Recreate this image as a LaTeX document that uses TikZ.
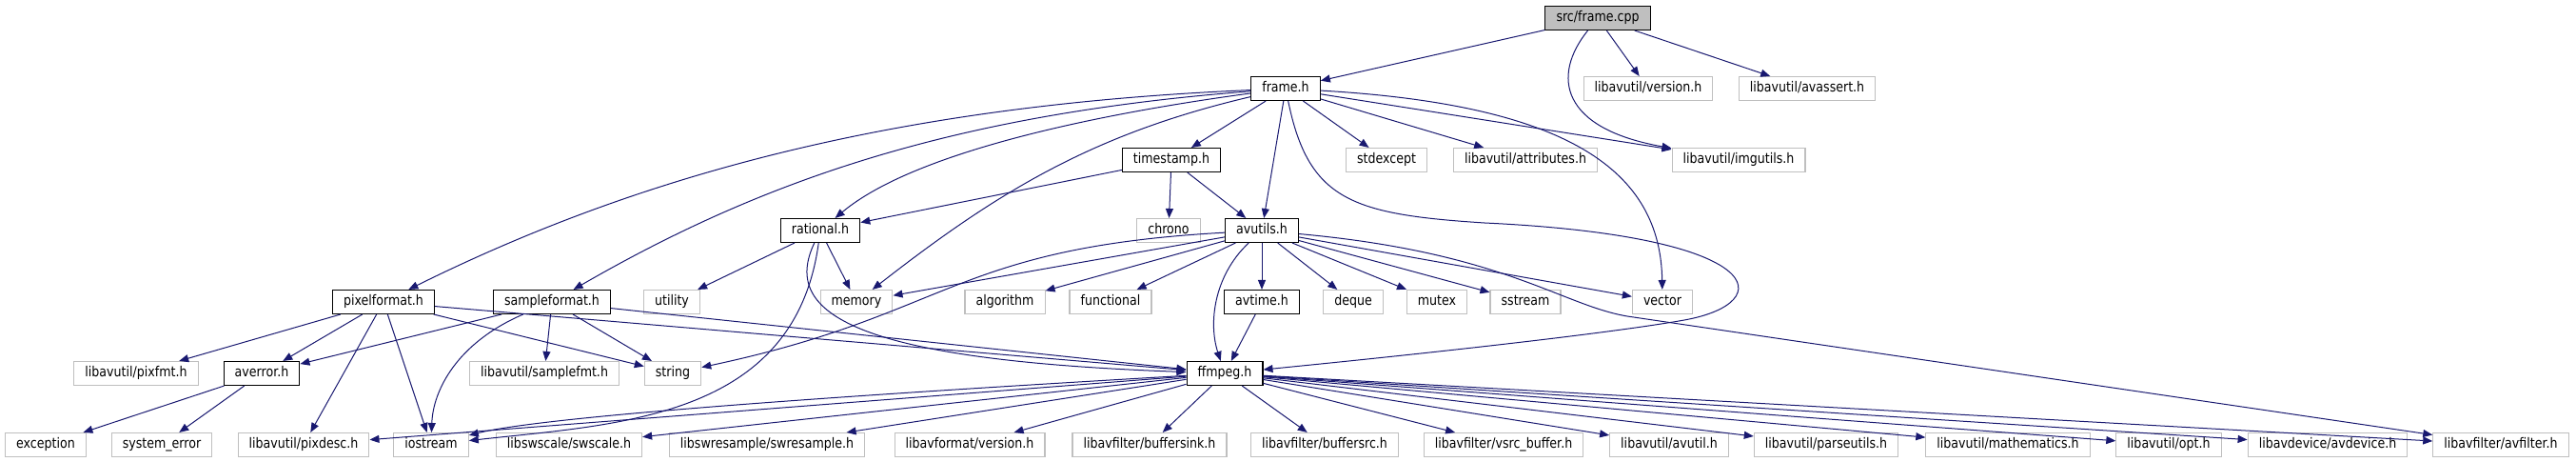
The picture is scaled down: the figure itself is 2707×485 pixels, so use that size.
\documentclass[tikz,border=0pt]{standalone}
\usepackage{fontspec}
\setmainfont{DejaVu Sans}[FakeStretch=0.86]
\usetikzlibrary{arrows.meta}
\definecolor{edgeblue}{RGB}{25,25,112}
\definecolor{sysgray}{RGB}{191,191,191}

\begin{document}
\begin{tikzpicture}[x=0.75pt,y=-0.75pt,>={Triangle[length=7.5pt,width=6pt]},
  box/.style={rectangle,inner xsep=8.7pt,inner ysep=0pt,minimum height=18.75pt,
    text height=8pt,text depth=2.3pt,font=\fontsize{11}{13}\selectfont,line width=0.8pt},
  hdr/.style={box,draw=black},
  sys/.style={box,draw=sysgray},
  src/.style={box,draw=black,fill=sysgray},
  inc/.style={->,draw=edgeblue,line width=0.75pt}]
  \useasboundingbox (0,0) rectangle (2707,485);

  % rank 1 and 2
  \node[src] (root) at (1679,19) {src/frame.cpp};
  \node[hdr] (frameh) at (1351,93) {frame.h};
  \node[sys] (verh) at (1732,93) {libavutil/version.h};
  \node[sys] (avassert) at (1899,93) {libavutil/avassert.h};
  % rank 3
  \node[hdr] (timestamp) at (1231,168) {timestamp.h};
  \node[sys] (stdexcept) at (1457,168) {stdexcept};
  \node[sys] (attrib) at (1603,168) {libavutil/attributes.h};
  \node[sys] (imgutils) at (1827,168) {libavutil/imgutils.h};
  % rank 4
  \node[hdr] (rational) at (862,242) {rational.h};
  \node[sys] (chrono) at (1228,242) {chrono};
  \node[hdr] (avutils) at (1326,242) {avutils.h};
  % rank 5
  \node[hdr] (pixfmth) at (403,317) {pixelformat.h};
  \node[hdr] (samplefmth) at (580,317) {sampleformat.h};
  \node[sys] (utility) at (706,317) {utility};
  \node[sys] (memory) at (900,317) {memory};
  \node[sys] (algorithm) at (1056,317) {algorithm};
  \node[sys] (functional) at (1167,317) {functional};
  \node[hdr] (avtime) at (1326,317) {avtime.h};
  \node[sys] (deque) at (1422,317) {deque};
  \node[sys] (mutex) at (1510,317) {mutex};
  \node[sys] (sstream) at (1603,317) {sstream};
  \node[sys] (vector) at (1747,317) {vector};
  % rank 6
  \node[sys] (pixfmt) at (143,392) {libavutil/pixfmt.h};
  \node[hdr] (averror) at (275,392) {averror.h};
  \node[sys] (samplefmt) at (572,392) {libavutil/samplefmt.h};
  \node[sys] (string) at (707,392) {string};
  \node[hdr] (ffmpeg) at (1287,392) {ffmpeg.h};
  % rank 7
  \node[sys] (exception) at (48,467) {exception};
  \node[sys] (syserror) at (170,467) {system\_error};
  \node[sys] (pixdesc) at (319,467) {libavutil/pixdesc.h};
  \node[sys] (iostream) at (453,467) {iostream};
  \node[sys] (swscale) at (598,467) {libswscale/swscale.h};
  \node[sys] (swresample) at (806,467) {libswresample/swresample.h};
  \node[sys] (avfmtver) at (1019,467) {libavformat/version.h};
  \node[sys] (buffersink) at (1208,467) {libavfilter/buffersink.h};
  \node[sys] (buffersrc) at (1392,467) {libavfilter/buffersrc.h};
  \node[sys] (vsrcbuf) at (1580,467) {libavfilter/vsrc\_buffer.h};
  \node[sys] (avutil) at (1754,467) {libavutil/avutil.h};
  \node[sys] (parseutils) at (1919,467) {libavutil/parseutils.h};
  \node[sys] (mathematics) at (2110,467) {libavutil/mathematics.h};
  \node[sys] (opt) at (2279,467) {libavutil/opt.h};
  \node[sys] (avdevice) at (2446,467) {libavdevice/avdevice.h};
  \node[sys] (avfilter) at (2628,467) {libavfilter/avfilter.h};

  % src/frame.cpp
  \draw[inc] (root) -- (frameh);
  \draw[inc] (root) -- (verh);
  \draw[inc] (root) -- (avassert);
  \draw[inc] (root) .. controls (1630,80) and (1640,135) .. (imgutils);
  % frame.h
  \draw[inc] (frameh) -- (timestamp);
  \draw[inc] (frameh) -- (avutils);
  \draw[inc] (frameh) .. controls (1150,120) and (960,160) .. (rational);
  \draw[inc] (frameh) .. controls (950,110) and (680,180) .. (pixfmth);
  \draw[inc] (frameh) .. controls (1000,120) and (800,190) .. (samplefmth);
  \draw[inc] (frameh) .. controls (1150,140) and (1050,200) .. (memory);
  \draw[inc] (frameh) -- (stdexcept);
  \draw[inc] (frameh) -- (attrib);
  \draw[inc] (frameh) -- (imgutils);
  \draw[inc] (frameh) .. controls (1650,110) and (1745,180) .. (vector);
  \draw[inc] (frameh) .. controls (1375,210) and (1420,225) .. (1560,234)
    .. controls (1860,248) and (1870,318) .. (1770,336)
    .. controls (1680,352) and (1450,376) .. (ffmpeg);
  % timestamp.h
  \draw[inc] (timestamp) -- (rational);
  \draw[inc] (timestamp) -- (chrono);
  \draw[inc] (timestamp) -- (avutils);
  % rational.h
  \draw[inc] (rational) -- (utility);
  \draw[inc] (rational) -- (memory);
  \draw[inc] (rational) .. controls (820,330) and (900,378) .. (ffmpeg);
  \draw[inc] (rational) .. controls (835,440) and (650,445) .. (iostream);
  % avutils.h
  \draw[inc] (avutils) -- (memory);
  \draw[inc] (avutils) -- (algorithm);
  \draw[inc] (avutils) -- (functional);
  \draw[inc] (avutils) -- (avtime);
  \draw[inc] (avutils) .. controls (1275,290) and (1270,340) .. (ffmpeg);
  \draw[inc] (avutils) -- (deque);
  \draw[inc] (avutils) -- (mutex);
  \draw[inc] (avutils) -- (sstream);
  \draw[inc] (avutils) -- (vector);
  \draw[inc] (avutils) .. controls (1000,260) and (1000,330) .. (string);
  \draw[inc] (avutils) .. controls (1580,265) and (1640,320) .. (1710,332) -- (avfilter);
  \draw[inc] (avtime) -- (ffmpeg);
  % pixelformat.h
  \draw[inc] (pixfmth) -- (pixfmt);
  \draw[inc] (pixfmth) -- (averror);
  \draw[inc] (pixfmth) -- (pixdesc);
  \draw[inc] (pixfmth) -- (iostream);
  \draw[inc] (pixfmth) -- (string);
  \draw[inc] (pixfmth) -- (ffmpeg);
  % sampleformat.h
  \draw[inc] (samplefmth) -- (averror);
  \draw[inc] (samplefmth) .. controls (480,360) and (455,410) .. (iostream);
  \draw[inc] (samplefmth) -- (samplefmt);
  \draw[inc] (samplefmth) -- (string);
  \draw[inc] (samplefmth) -- (ffmpeg);
  % averror.h
  \draw[inc] (averror) -- (exception);
  \draw[inc] (averror) -- (syserror);
  % ffmpeg.h
  \draw[inc] (ffmpeg) -- (pixdesc);
  \draw[inc] (ffmpeg) .. controls (800,420) and (560,440) .. (iostream);
  \draw[inc] (ffmpeg) -- (swscale);
  \draw[inc] (ffmpeg) -- (swresample);
  \draw[inc] (ffmpeg) -- (avfmtver);
  \draw[inc] (ffmpeg) -- (buffersink);
  \draw[inc] (ffmpeg) -- (buffersrc);
  \draw[inc] (ffmpeg) -- (vsrcbuf);
  \draw[inc] (ffmpeg) -- (avutil);
  \draw[inc] (ffmpeg) -- (parseutils);
  \draw[inc] (ffmpeg) -- (mathematics);
  \draw[inc] (ffmpeg) -- (opt);
  \draw[inc] (ffmpeg) -- (avdevice);
  \draw[inc] (ffmpeg) -- (avfilter);
\end{tikzpicture}
\end{document}
